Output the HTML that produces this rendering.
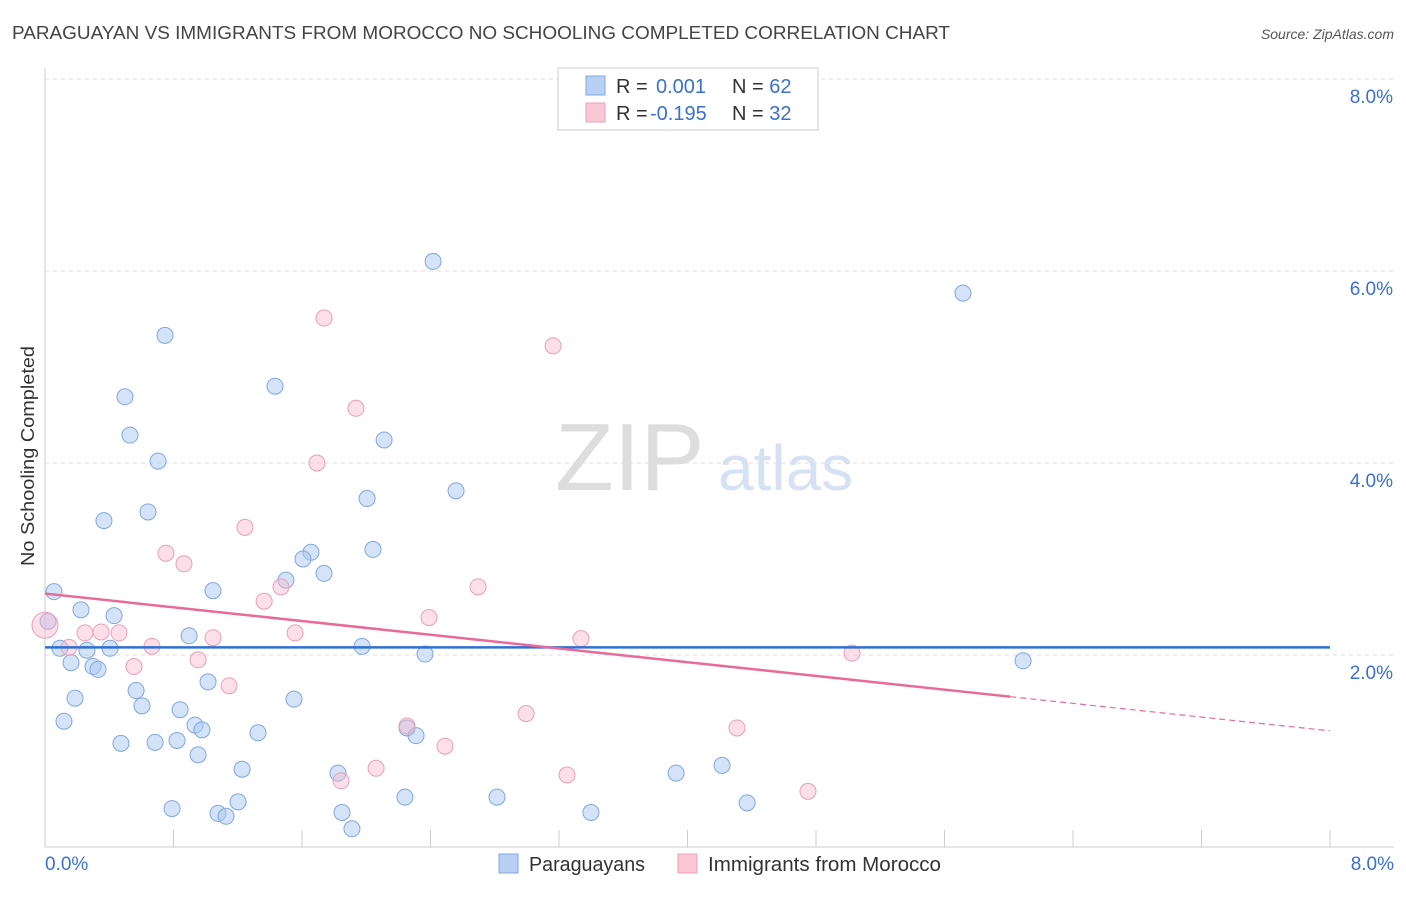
<!DOCTYPE html>
<html><head><meta charset="utf-8"><style>
body{margin:0;background:#fff;font-family:"Liberation Sans",sans-serif}
svg text{font-family:"Liberation Sans",sans-serif}
</style></head><body>
<svg id="chart" width="1406" height="892">
<text x="12" y="39" font-size="18" fill="#444" textLength="938" lengthAdjust="spacingAndGlyphs">PARAGUAYAN VS IMMIGRANTS FROM MOROCCO NO SCHOOLING COMPLETED CORRELATION CHART</text>
<text x="1394" y="39" font-size="14" fill="#555" text-anchor="end" font-style="italic">Source: ZipAtlas.com</text>
<text x="34" y="456" font-size="18" fill="#333" text-anchor="middle" textLength="220" lengthAdjust="spacingAndGlyphs" transform="rotate(-90 34 456)">No Schooling Completed</text>
<text x="555" y="490" font-size="96" fill="#ddd" font-family="Liberation Serif">ZIP</text>
<text x="718" y="490" font-size="64" fill="#d6e2f4">atlas</text>
<g id="grid"></g><g id="pts"></g><g id="lines"></g>
<g>
<rect x="558" y="68" width="260" height="62" fill="#fff" stroke="#ccc"/>
<rect x="586" y="76" width="19" height="19" fill="#b8d0f4" stroke="#7fa8e0"/>
<text x="616" y="93" font-size="20" fill="#333">R = <tspan x="656" fill="#3a70d0">0.001</tspan><tspan x="732">N = </tspan><tspan fill="#3a70d0">62</tspan></text>
<rect x="586" y="103" width="19" height="19" fill="#f8c8d6" stroke="#e8a0b8"/>
<text x="616" y="120" font-size="20" fill="#333">R = <tspan x="650" fill="#3a70d0">-0.195</tspan><tspan x="732">N = </tspan><tspan fill="#3a70d0">32</tspan></text>
</g>
<g>
<rect x="499" y="854" width="19" height="19" fill="#b8d0f4" stroke="#7fa8e0"/>
<text x="529" y="871" font-size="20" fill="#333" textLength="116" lengthAdjust="spacingAndGlyphs">Paraguayans</text>
<rect x="678" y="854" width="19" height="19" fill="#f8c8d6" stroke="#e8a0b8"/>
<text x="708" y="871" font-size="20" fill="#333" textLength="233" lengthAdjust="spacingAndGlyphs">Immigrants from Morocco</text>
</g>
</svg>
<script>
const yTicks=[2,4,6,8];
const xTickLabels=["0.0%","8.0%"];
const blueX=[2.416,5.715,0.747,1.432,0.498,0.529,2.111,0.704,2.559,2.005,0.367,0.641,2.042,1.656,1.606,1.737,1.5,0.056,1.046,0.224,0.43,0.019,0.897,0.093,0.261,0.405,1.974,2.366,0.162,0.299,0.33,6.089,1.015,0.567,0.187,1.55,0.604,0.841,0.118,0.934,0.977,2.254,2.31,1.326,0.473,0.685,0.822,0.953,1.227,1.824,4.215,3.929,2.241,2.814,0.791,1.202,1.077,1.127,1.849,3.399,4.371,1.911];
const blueY=[6.10,5.77,5.33,4.80,4.69,4.29,4.24,4.02,3.71,3.63,3.40,3.49,3.10,3.07,3.00,2.85,2.78,2.66,2.67,2.47,2.41,2.35,2.20,2.07,2.05,2.07,2.09,2.01,1.92,1.88,1.85,1.94,1.72,1.63,1.55,1.54,1.47,1.43,1.31,1.27,1.22,1.24,1.16,1.19,1.08,1.09,1.11,0.96,0.81,0.77,0.85,0.77,0.52,0.52,0.40,0.47,0.35,0.32,0.36,0.36,0.46,0.19];
const pinkX=[1.737,3.163,1.936,1.693,1.245,0.753,0.865,2.696,1.364,1.469,2.391,0.0,0.249,0.349,0.461,1.557,1.046,0.666,3.337,0.149,5.024,0.953,0.554,1.146,2.995,2.254,4.308,2.49,2.061,3.25,1.843,4.75];
const pinkY=[5.51,5.22,4.57,4.00,3.33,3.06,2.95,2.71,2.56,2.71,2.39,2.31,2.23,2.24,2.23,2.23,2.18,2.09,2.17,2.08,2.02,1.95,1.88,1.68,1.39,1.26,1.24,1.05,0.82,0.75,0.69,0.58];
const blueTrend=[2.08,2.08];
const pinkTrend=[2.64,1.21];
const ns="http://www.w3.org/2000/svg";
const X=v=>45+v/8*1285, Y=v=>847-v*96;
function mk(tag,at,parent){const e=document.createElementNS(ns,tag);for(const k in at)e.setAttribute(k,at[k]);parent.appendChild(e);return e;}
const grid=document.getElementById('grid');
const ax=mk('line',{x1:45,y1:847,x2:1394,y2:847,stroke:'#ccc'},grid);


const ay=mk('line',{x1:45,y1:68,x2:45,y2:847,stroke:'#ccc'},grid);


yTicks.forEach(t=>{
 const g=mk('line',{x1:45,y1:Y(t),x2:1394,y2:Y(t),stroke:'#ddd','stroke-dasharray':'4 4'},grid);
 
 
 const l=mk('text',{x:1393,y:Y(t)+24,'font-size':19,fill:'#3a70d0','text-anchor':'end'},grid);l.textContent=t.toFixed(1)+'%';
 
 
});
for(let i=0;i<=10;i++){const tk=mk('line',{x1:X(i*0.8),y1:830,x2:X(i*0.8),y2:847,stroke:'#ccc'},grid);
 
 }
xTickLabels.forEach((s,i)=>{const l=mk('text',{x:i?1394:45,y:870,'font-size':19,fill:'#3a70d0','text-anchor':i?'end':'start'},grid);l.textContent=s;
 
 });
const pts=document.getElementById('pts');
blueX.forEach((x,i)=>{const c=mk('circle',{cx:X(x),cy:Y(blueY[i]),r:8,fill:'rgba(170,200,240,0.5)',stroke:'#7fa8e0','stroke-width':1},pts);
 
 });
pinkX.forEach((x,i)=>{const c=mk('circle',{cx:X(x),cy:Y(pinkY[i]),r:i==11?13:8,fill:'rgba(248,185,205,0.45)',stroke:'#e8a0b8','stroke-width':1},pts);
 
 });
const lines=document.getElementById('lines');
const bl=mk('line',{x1:X(0),y1:Y(blueTrend[0]),x2:X(8),y2:Y(blueTrend[1]),stroke:'#2f6fd6','stroke-width':2.5},lines);


const pe=6.01,pv=pinkTrend[0]+(pinkTrend[1]-pinkTrend[0])*pe/8;
const pl=mk('line',{x1:X(0),y1:Y(pinkTrend[0]),x2:X(pe),y2:Y(pv),stroke:'#e86a98','stroke-width':2.5},lines);


const pd=mk('line',{x1:X(pe),y1:Y(pv),x2:X(8),y2:Y(pinkTrend[1]),stroke:'#e86a98','stroke-width':1.2,'stroke-dasharray':'6 4'},lines);


</script>
</body></html>
